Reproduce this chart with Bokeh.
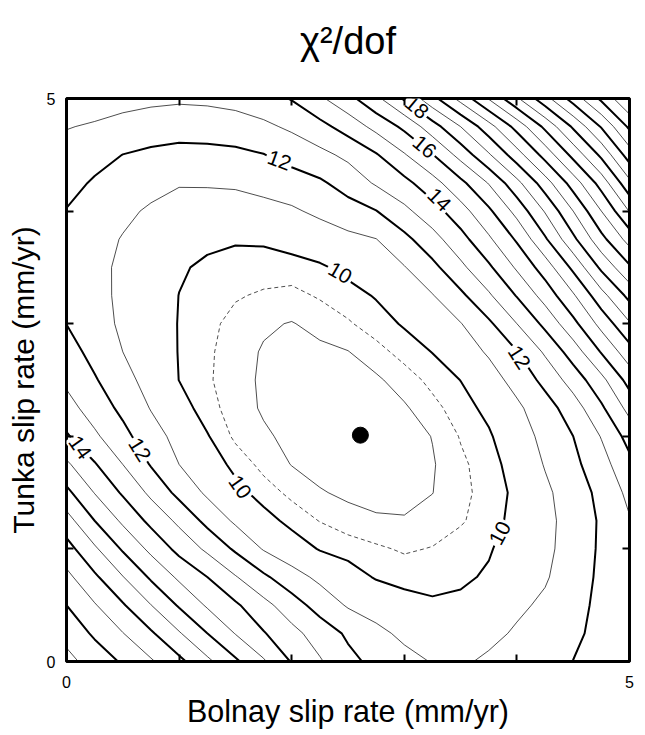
import numpy as np
from bokeh.plotting import figure
from bokeh.models import LinearAxis, FixedTicker, ColumnDataSource
from bokeh.core.properties import value
from bokeh.embed import file_html
from bokeh.resources import INLINE

# ---- data -------------------------------------------------------------
bolnay_rate = [0.0, 0.25, 0.5, 0.75, 1.0, 1.25, 1.5, 1.75, 2.0, 2.25, 2.5,
               2.75, 3.0, 3.25, 3.5, 3.75, 4.0, 4.25, 4.5, 4.75, 5.0]      # x (mm/yr)
tunka_rate = [0.0, 0.25, 0.5, 0.75, 1.0, 1.25, 1.5, 1.75, 2.0, 2.25, 2.5,
              2.75, 3.0, 3.25, 3.5, 3.75, 4.0, 4.25, 4.5, 4.75, 5.0]       # y (mm/yr)
# chi2/dof surface, one row per Tunka rate (bottom to top)
chi2_dof = [
    [21.3, 20.58, 19.88, 19.12, 18.25, 17.22, 16.17, 15.12, 13.93, 13.1, 12.27, 11.73, 11.32, 10.95, 10.86, 11.16, 11.44, 11.73, 12.01, 12.3, 12.55],
    [20.68, 19.84, 19.03, 18.13, 17.09, 16.0, 14.96, 14.07, 13.3, 12.55, 11.84, 11.26, 10.78, 10.55, 10.5, 10.75, 11.12, 11.49, 11.85, 12.22, 12.58],
    [20.0, 19.08, 18.1, 17.02, 15.89, 14.88, 14.15, 13.31, 12.45, 11.6, 10.9, 10.55, 10.25, 10.1, 10.14, 10.42, 10.82, 11.17, 11.72, 12.2, 12.62],
    [19.26, 18.17, 17.04, 15.85, 14.82, 14.0, 13.07, 12.18, 11.39, 10.78, 10.31, 9.94, 9.81, 9.78, 9.89, 10.08, 10.5, 10.9, 11.54, 12.18, 12.68],
    [18.38, 17.16, 15.88, 14.76, 13.71, 12.81, 11.85, 10.93, 10.39, 9.95, 9.77, 9.59, 9.43, 9.53, 9.74, 9.94, 10.33, 10.78, 11.41, 12.15, 12.75],
    [17.4, 16.0, 14.82, 13.74, 12.78, 11.72, 10.84, 10.26, 9.81, 9.48, 9.23, 9.08, 9.05, 9.19, 9.44, 9.76, 10.2, 10.74, 11.38, 12.13, 12.93],
    [16.25, 14.96, 13.87, 12.78, 11.72, 10.83, 10.22, 9.74, 9.37, 9.05, 8.88, 8.8, 8.8, 8.99, 9.35, 9.71, 10.14, 10.81, 11.5, 12.26, 13.25],
    [15.17, 14.08, 13.0, 11.93, 11.0, 10.4, 9.82, 9.34, 8.98, 8.78, 8.68, 8.68, 8.75, 8.95, 9.39, 9.77, 10.28, 11.06, 11.75, 12.62, 13.73],
    [14.12, 13.17, 12.29, 11.41, 10.68, 10.05, 9.39, 9.09, 8.85, 8.7, 8.62, 8.62, 8.72, 9.02, 9.54, 9.91, 10.54, 11.26, 12.0, 13.05, 14.37],
    [13.37, 12.55, 11.77, 10.95, 10.31, 9.7, 9.26, 8.93, 8.75, 8.68, 8.66, 8.72, 8.92, 9.35, 9.74, 10.18, 10.82, 11.56, 12.52, 13.83, 15.32],
    [12.81, 12.09, 11.33, 10.64, 9.99, 9.58, 9.19, 8.92, 8.78, 8.72, 8.78, 8.9, 9.27, 9.64, 10.01, 10.61, 11.32, 12.29, 13.43, 14.71, 16.38],
    [12.4, 11.69, 11.0, 10.48, 9.97, 9.6, 9.22, 8.95, 8.85, 8.88, 8.98, 9.33, 9.68, 10.02, 10.54, 11.11, 11.96, 13.14, 14.47, 16.07, 17.6],
    [11.99, 11.39, 10.84, 10.4, 9.97, 9.64, 9.34, 9.08, 8.97, 9.17, 9.44, 9.74, 10.07, 10.52, 10.96, 11.82, 13.0, 14.25, 15.72, 17.33, 18.9],
    [11.7, 11.26, 10.83, 10.42, 9.99, 9.77, 9.55, 9.43, 9.35, 9.56, 9.78, 10.05, 10.5, 10.95, 11.79, 12.86, 14.06, 15.4, 16.87, 18.64, 20.3],
    [11.55, 11.21, 10.86, 10.47, 10.08, 9.88, 9.79, 9.74, 9.77, 9.91, 10.18, 10.57, 10.95, 11.73, 12.77, 13.83, 15.14, 16.47, 18.23, 20.21, 21.85],
    [11.7, 11.32, 10.95, 10.76, 10.55, 10.15, 10.06, 10.09, 10.26, 10.46, 10.75, 10.98, 11.73, 12.64, 13.64, 14.84, 16.13, 17.86, 19.77, 21.69, 23.4],
    [11.96, 11.57, 11.19, 10.88, 10.73, 10.6, 10.58, 10.69, 10.86, 11.21, 11.59, 11.97, 12.77, 13.58, 14.6, 15.81, 17.33, 19.08, 21.0, 23.0, 25.05],
    [12.32, 11.89, 11.6, 11.29, 11.05, 11.08, 11.13, 11.32, 11.56, 11.85, 12.41, 13.12, 13.71, 14.62, 15.74, 17.06, 18.71, 20.54, 22.46, 24.42, 26.75],
    [12.68, 12.34, 11.99, 11.81, 11.69, 11.72, 11.79, 11.97, 12.35, 12.74, 13.22, 13.92, 14.92, 15.96, 17.35, 18.88, 20.57, 22.38, 24.31, 26.23, 28.5],
    [13.04, 12.91, 12.68, 12.5, 12.41, 12.44, 12.53, 12.8, 13.17, 13.7, 14.41, 15.3, 16.21, 17.56, 19.0, 20.6, 22.36, 24.23, 26.15, 28.08, 30.2],
    [13.4, 13.4, 13.33, 13.22, 13.15, 13.2, 13.35, 13.6, 14.06, 14.84, 15.69, 16.76, 18.13, 19.69, 21.33, 23.07, 24.86, 26.64, 28.43, 30.21, 32.0],
]
thin_levels = [9, 11, 13, 15, 17, 19, 21, 23, 25, 27, 29, 31]
thick_levels = [10, 12, 14, 16, 18, 20, 22, 24, 26, 28, 30, 32]
dashed_levels = [9.5]
best_bolnay = [2.61]
best_tunka = [2.01]
contour_label_text = ["18", "16", "14", "12", "10", "12", "14", "12", "10", "10"]

# label placement (layout, not data)
lab_x = [3.11, 3.18, 3.31, 4.02, 2.43, 1.89, 0.12, 0.65, 1.54, 3.85]
lab_y = [4.92, 4.57, 4.10, 2.70, 3.45, 4.45, 1.90, 1.88, 1.55, 1.14]
lab_deg = [-40, -40, -45, -57, -30, -20, -55, -58, -55, 62]

FONT = "Liberation Sans"

p = figure(frame_width=563, frame_height=563, x_range=(0, 5), y_range=(0, 5),
           output_backend="svg", toolbar_location=None,
           x_axis_location=None, y_axis_location=None,
           min_border_left=66, min_border_right=6, min_border_top=98, min_border_bottom=70,
           background_fill_color="white", border_fill_color="white")
p.grid.grid_line_color = None
p.outline_line_color = "black"
p.outline_line_width = 3
p.outline_line_alpha = 1.0

z = np.array(chi2_dof)
xs = np.array(bolnay_rate)
ys = np.array(tunka_rate)

p.contour(xs, ys, z, levels=thin_levels, line_color="black", line_width=0.7)
p.contour(xs, ys, z, levels=dashed_levels, line_color="black", line_width=0.7, line_dash="4 3")
p.contour(xs, ys, z, levels=thick_levels, line_color="black", line_width=2)

src = ColumnDataSource(dict(x=lab_x, y=lab_y, text=contour_label_text,
                            angle=[np.deg2rad(a) for a in lab_deg]))
p.text(x="x", y="y", text="text", angle="angle", source=src,
       text_align="center", text_baseline="middle",
       text_font=value(FONT), text_font_size="21px", text_color="black",
       background_fill_color="white", padding=2)

p.scatter(best_bolnay, best_tunka, size=16, color="black")

ticks = FixedTicker(ticks=[0, 1, 2, 3, 4, 5])
blank = {1: "", 2: "", 3: "", 4: ""}
allblank = {0: "", 1: "", 2: "", 3: "", 4: "", 5: ""}


def style(ax):
    ax.ticker = ticks
    ax.axis_line_color = None
    ax.major_tick_in = 7
    ax.major_tick_out = 0
    ax.major_tick_line_width = 2
    ax.major_tick_line_color = "black"
    ax.minor_tick_line_color = None
    ax.major_label_text_font = FONT
    ax.major_label_text_font_size = "16px"
    ax.major_label_text_color = "black"
    ax.axis_label_text_font = FONT
    ax.axis_label_text_font_style = "normal"
    ax.axis_label_text_color = "black"


bottom = LinearAxis(axis_label="Bolnay slip rate (mm/yr)")
style(bottom)
bottom.major_label_overrides = blank
bottom.major_label_standoff = 14
bottom.axis_label_text_font_size = "30.5px"
bottom.axis_label_standoff = 3
p.add_layout(bottom, "below")

left = LinearAxis(axis_label="Tunka slip rate (mm/yr)")
style(left)
left.major_label_overrides = blank
left.major_label_standoff = 11
left.axis_label_text_font_size = "30px"
left.axis_label_standoff = 4
p.add_layout(left, "left")

right = LinearAxis()
style(right)
right.major_label_overrides = allblank
right.major_label_standoff = 0
p.add_layout(right, "right")

top = LinearAxis(axis_label="χ²/dof")
style(top)
top.major_label_overrides = allblank
top.major_label_standoff = 0
top.axis_label_text_font_size = "38px"
top.axis_label_standoff = 37
p.add_layout(top, "above")

open("out.html", "w").write(file_html(p, INLINE))
